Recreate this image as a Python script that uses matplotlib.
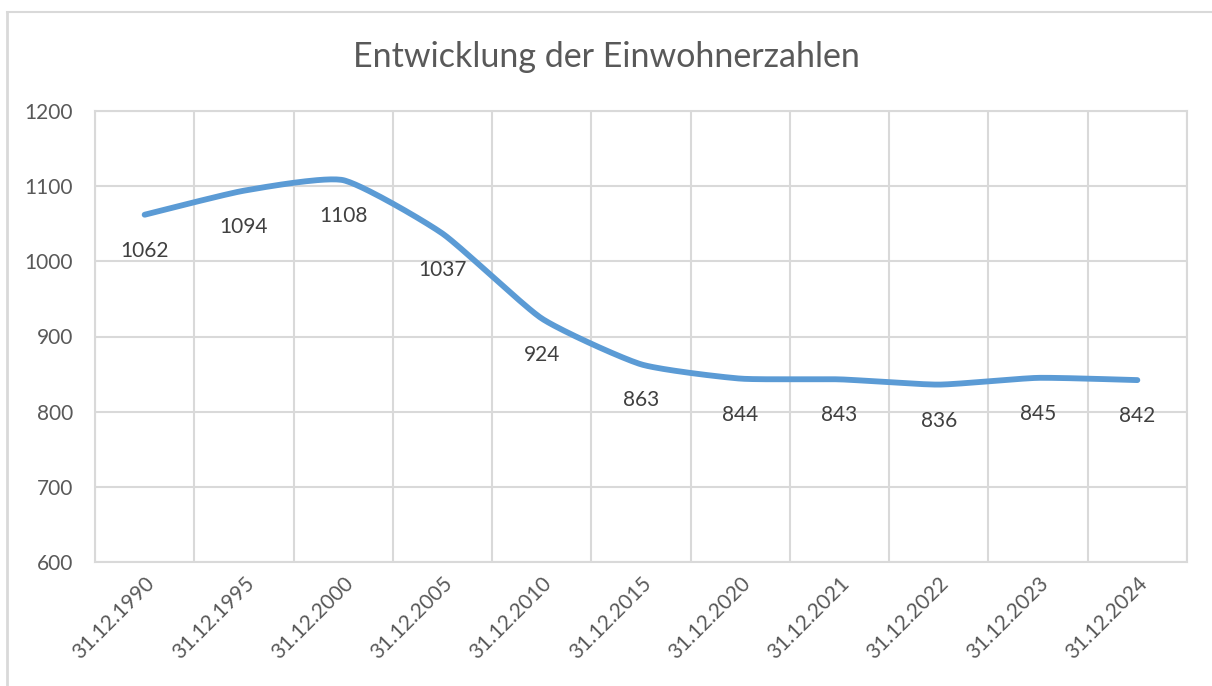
import numpy as np
import matplotlib.pyplot as plt
from matplotlib.lines import Line2D

dates = ["31.12.1990", "31.12.1995", "31.12.2000", "31.12.2005", "31.12.2010",
         "31.12.2015", "31.12.2020", "31.12.2021", "31.12.2022", "31.12.2023",
         "31.12.2024"]
einwohner = [1062, 1094, 1108, 1037, 924, 863, 844, 843, 836, 845, 842]

LINE = "#5B9BD5"
GRID = "#D9D9D9"
TXT = "#595959"
LBL = "#404040"

plt.rcParams["font.family"] = ["Lato", "DejaVu Sans"]


def smooth(x, y, k=0.09, n=30):
    """Bezier curve through the points with light tension, like Excel's smoothed line."""
    x = np.asarray(x, float)
    y = np.asarray(y, float)
    px = np.concatenate([[x[0]], x, [x[-1]]])
    py = np.concatenate([[y[0]], y, [y[-1]]])
    xs, ys = [], []
    for i in range(1, len(px) - 2):
        t = np.linspace(0, 1, n, endpoint=False)
        p0, p1, p2, p3 = (np.array([px[j], py[j]]) for j in range(i - 1, i + 3))
        c1 = p1 + (p2 - p0) * k
        c2 = p2 - (p3 - p1) * k
        b = ((1 - t) ** 3)[:, None] * p1 + (3 * (1 - t) ** 2 * t)[:, None] * c1 \
            + (3 * (1 - t) * t ** 2)[:, None] * c2 + (t ** 3)[:, None] * p2
        xs.append(b[:, 0])
        ys.append(b[:, 1])
    xs.append([x[-1]])
    ys.append([y[-1]])
    return np.concatenate(xs), np.concatenate(ys)


fig = plt.figure(figsize=(12.12, 6.86), dpi=100)
ax = fig.add_axes([95 / 1212, 1 - 562 / 686, (1187 - 95) / 1212, (562 - 111) / 686])

x = np.arange(len(dates))
sx, sy = smooth(x, einwohner)
ax.plot(sx, sy, color=LINE, lw=4.2, solid_capstyle="round", zorder=3)

for xi, v in zip(x, einwohner):
    ax.annotate(str(v), (xi, v), xytext=(0, -26), textcoords="offset points",
                ha="center", va="center", fontsize=15, color=LBL)

ax.set_xlim(-0.5, len(dates) - 0.5)
ax.set_ylim(600, 1200)
ax.set_yticks(range(600, 1201, 100))
ax.set_xticks(x)
ax.set_xticklabels(dates, rotation=45, ha="right", rotation_mode="anchor",
                   fontsize=15, color=TXT)
ax.tick_params(axis="y", labelsize=15, labelcolor=TXT, length=0, pad=16)
ax.tick_params(axis="x", length=0, pad=8)
ax.set_xticks(np.arange(-0.5, len(dates)), minor=True)
ax.tick_params(axis="x", which="minor", length=0)
ax.grid(axis="y", color=GRID, lw=1.5)
ax.grid(axis="x", which="minor", color=GRID, lw=1.5)
for s in ax.spines.values():
    s.set_color(GRID)
    s.set_linewidth(1.5)
ax.set_axisbelow(True)

fig.text(0.5, 1 - 57 / 686, "Entwicklung der Einwohnerzahlen", ha="center",
         va="center", fontsize=24.5, color=TXT)

# chart area frame (left and top edges visible)
fig.add_artist(Line2D([7 / 1212, 7 / 1212], [0, 1 - 12 / 686], color=GRID, lw=2,
                      transform=fig.transFigure))
fig.add_artist(Line2D([7 / 1212, 1], [1 - 12 / 686, 1 - 12 / 686], color=GRID, lw=1.5,
                      transform=fig.transFigure))

fig.savefig("out.png", dpi=100)
